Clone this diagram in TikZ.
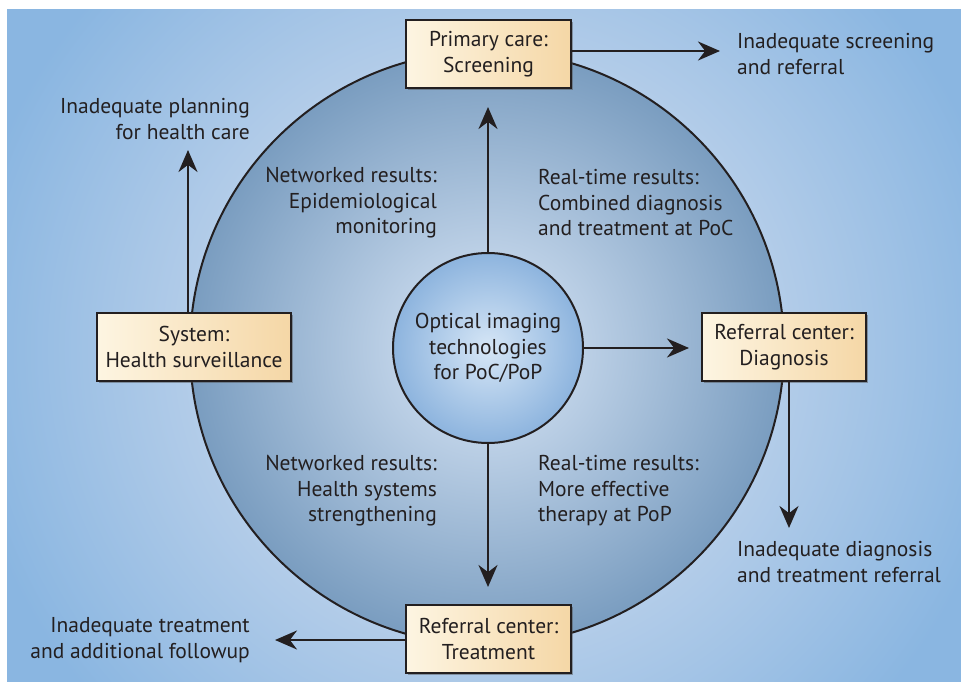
\documentclass[tikz,border=0pt]{standalone}
\usepackage{fontspec}
\setmainfont{PT Sans}
\usetikzlibrary{arrows.meta,shadows}
\definecolor{txt}{HTML}{231F20}
\definecolor{bgA}{HTML}{B4CDE9}
\definecolor{bgB}{HTML}{8AB6E1}
\definecolor{bigA}{HTML}{BCD0E6}
\definecolor{bigB}{HTML}{7A9DC0}
\definecolor{inA}{HTML}{D6E6F6}
\definecolor{inB}{HTML}{8DB4DE}
\definecolor{boxL}{HTML}{FDF5E2}
\definecolor{boxR}{HTML}{F5D7A6}
\pgfdeclareradialshading{bgshade}{\pgfpoint{0bp}{0bp}}{color(0bp)=(bgA); color(12bp)=(bgA); color(22bp)=(bgB); color(50bp)=(bgB)}
\pgfdeclareradialshading{bigshade}{\pgfpoint{0bp}{0bp}}{color(0bp)=(bigA); color(8bp)=(bigA); color(25bp)=(bigB); color(50bp)=(bigB)}
\pgfdeclareradialshading{inshade}{\pgfpoint{0bp}{0bp}}{color(0bp)=(inA); color(25bp)=(inB); color(50bp)=(inB)}
\tikzset{
  stagebox/.style={draw=txt, line width=2.5pt, left color=boxL, right color=boxR,
    minimum height=68pt, align=center, inner sep=0pt, text=txt,
    drop shadow={shadow xshift=2pt, shadow yshift=-2pt, opacity=0.45, fill=black!70}},
  lbl/.style={text=txt, inner sep=0pt},
  conn/.style={draw=txt, line width=2.5pt, -{Stealth[length=22pt,width=19pt]}},
}
\begin{document}
\begin{tikzpicture}[x=1pt,y=-1pt,font=\fontsize{21.5}{25.5}\selectfont]
\useasboundingbox (0,0) rectangle (961,682);
\fill[white] (0,0) rectangle (961,682);
\begin{scope}
  \clip (7,10) rectangle (961,682);
  \fill[bgB] (7,10) rectangle (961,682);
  \shade[shading=bgshade] (487,348) circle (600);
\end{scope}
% big circle
\shade[shading=bigshade] (487,348) circle (297);
\draw[txt, line width=2pt] (487,348) circle (297);
% inner circle
\node[circle, minimum size=190pt, inner sep=0pt] (core) at (488,348) {};
\draw[conn] (core.north) -- (488,107) coordinate (upEnd);
\draw[conn] (core.east) -- (689,348) coordinate (rightEnd);
\draw[conn] (core.south) -- (488,587) coordinate (downEnd);
\shade[shading=inshade] (488,348) circle (95);
\draw[txt, line width=2pt] (488,348) circle (95);
\node[lbl, align=center] (coretext) at (488,348) {Optical imaging\\technologies\\for PoC/PoP};
% boxes
\node[stagebox, minimum width=165pt] (primary) at (488.5,54) {Primary care:\\Screening};
\node[stagebox, minimum width=194pt] (system) at (194,347) {System:\\Health surveillance};
\node[stagebox, minimum width=164pt] (diag) at (784,347) {Referral center:\\Diagnosis};
\node[stagebox, minimum width=165pt] (treat) at (488.5,639) {Referral center:\\Treatment};
% outgoing arrows
\coordinate (pEnd) at (720,51);
\draw[conn] (primary.east |- pEnd) -- (pEnd);
\coordinate (sEnd) at (188,150);
\draw[conn] (system.north -| sEnd) -- (sEnd);
\coordinate (dEnd) at (789,528);
\draw[conn] (diag.south -| dEnd) -- (dEnd);
\coordinate (tEnd) at (275,640);
\draw[conn] (treat.west |- tEnd) -- (tEnd);
% labels
\node[lbl, align=left, anchor=west] (l1) at (737,54) {Inadequate screening\\and referral};
\node[lbl, align=right, anchor=east] (l2) at (250,119) {Inadequate planning\\for health care};
\node[lbl, align=right, anchor=east] (l3) at (437,203) {Networked results:\\Epidemiological\\monitoring};
\node[lbl, align=left, anchor=west] (l4) at (538,203) {Real-time results:\\Combined diagnosis\\and treatment at PoC};
\node[lbl, align=right, anchor=east] (l5) at (437,491) {Networked results:\\Health systems\\strengthening};
\node[lbl, align=left, anchor=west] (l6) at (538,491) {Real-time results:\\More effective\\therapy at PoP};
\node[lbl, align=left, anchor=west] (l7) at (737,562) {Inadequate diagnosis\\and treatment referral};
\node[lbl, align=right, anchor=east] (l8) at (250,640) {Inadequate treatment\\and additional followup};
\end{tikzpicture}
\end{document}
